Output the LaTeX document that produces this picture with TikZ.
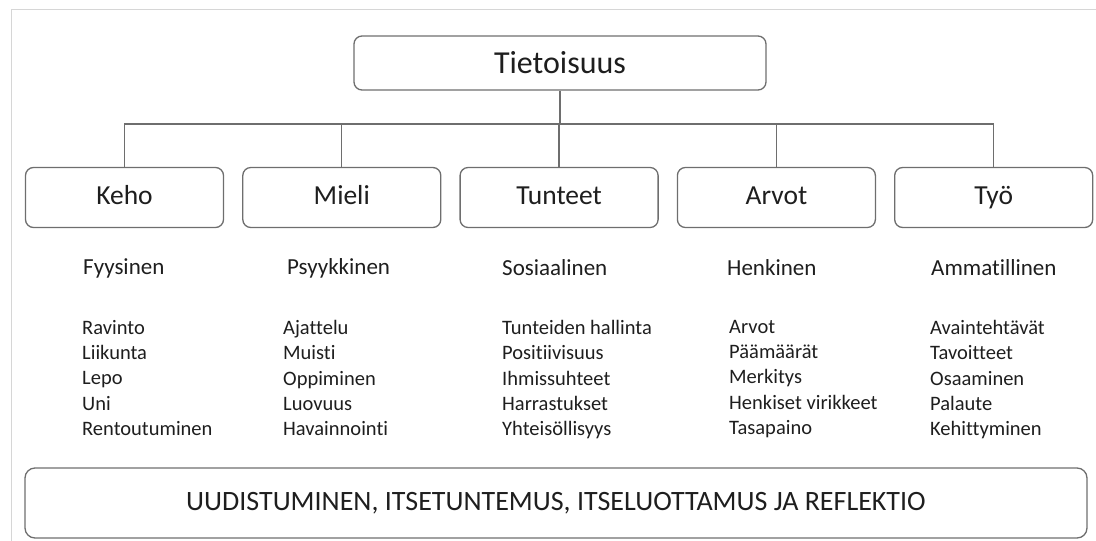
\documentclass[tikz,border=0pt]{standalone}
\usepackage{fontspec}
\setmainfont{Carlito}[Ligatures=CommonOff]
\usetikzlibrary{positioning}
\definecolor{boxline}{HTML}{6E6E6E}
\definecolor{pagegray}{HTML}{D6D6D6}
\definecolor{ink}{HTML}{1E1E1E}
\tikzset{
x=1pt, y=-1pt, % one unit is one pixel of the picture
every node/.style={text=ink}, % text colour for all nodes
topbox/.style={draw=boxline, line width=1.3pt, rounded corners=8pt, minimum width=412pt, minimum height=54pt, font=\fontsize{32}{38}\selectfont},
areabox/.style={draw=boxline, line width=1.3pt, rounded corners=8pt, minimum width=198pt, minimum height=60pt, text height=19pt, text depth=6pt, font=\fontsize{27.5}{33}\selectfont},
basebox/.style={draw=boxline, line width=1.3pt, rounded corners=10pt, minimum width=1062pt, minimum height=70pt, font=\fontsize{28}{33}\selectfont},
heading/.style={anchor=west, inner sep=0pt, font=\fontsize{23}{28}\selectfont},
itemlist/.style={anchor=north west, align=left, inner sep=0pt, font=\fontsize{20.5}{25.3}\selectfont},
link/.style={draw=boxline, line width=1.3pt},
}
\begin{document}
\begin{tikzpicture}
    \useasboundingbox (0,0) rectangle (1096,541);
    \draw[pagegray, line width=1pt] (11,541) -- (11,9.5) -- (1096,9.5);

    \node[topbox] (tieto) at (560,63) {Tietoisuus};
    \coordinate (bus) at (0,124);

    \node[areabox] (keho) at (124.5,197.5) {Keho};
    \node[areabox, right=18pt of keho] (mieli) {Mieli};
    \node[areabox, right=18pt of mieli] (tunteet) {Tunteet};
    \node[areabox, right=18pt of tunteet] (arvot) {Arvot};
    \node[areabox, right=18pt of arvot] (tyo) {Työ};

    \draw[link] (tieto.south) -- (tieto.south |- bus);
    \draw[link] (keho.north) -- (keho.north |- bus) -- (tyo.north |- bus) -- (tyo.north);
    \foreach \n in {mieli, tunteet, arvot}
        \draw[link] (\n.north) -- (\n.north |- bus);

    \node[heading] (fyys) at (83,268) {Fyysinen};
    \node[heading] (psyyk) at (287,268) {Psyykkinen};
    \node[heading] (sos) at (502,268) {Sosiaalinen};
    \node[heading] (henk) at (727,268) {Henkinen};
    \node[heading] (ammat) at (931,268) {Ammatillinen};

    \node[itemlist] (kehol) at (82,320) {Ravinto\\Liikunta\\Lepo\\Uni\\Rentoutuminen};
    \node[itemlist] (mielil) at (283,320) {Ajattelu\\Muisti\\Oppiminen\\Luovuus\\Havainnointi};
    \node[itemlist] (tunteetl) at (502,320) {Tunteiden hallinta\\Positiivisuus\\Ihmissuhteet\\Harrastukset\\Yhteisöllisyys};
    \node[itemlist] (arvotl) at (729,320) {Arvot\\Päämäärät\\Merkitys\\Henkiset virikkeet\\Tasapaino};
    \node[itemlist] (tyol) at (930,320) {Avaintehtävät\\Tavoitteet\\Osaaminen\\Palaute\\Kehittyminen};

    \node[basebox] (pohja) at (556,503) {UUDISTUMINEN, ITSETUNTEMUS, ITSELUOTTAMUS JA REFLEKTIO};
\end{tikzpicture}
\end{document}
